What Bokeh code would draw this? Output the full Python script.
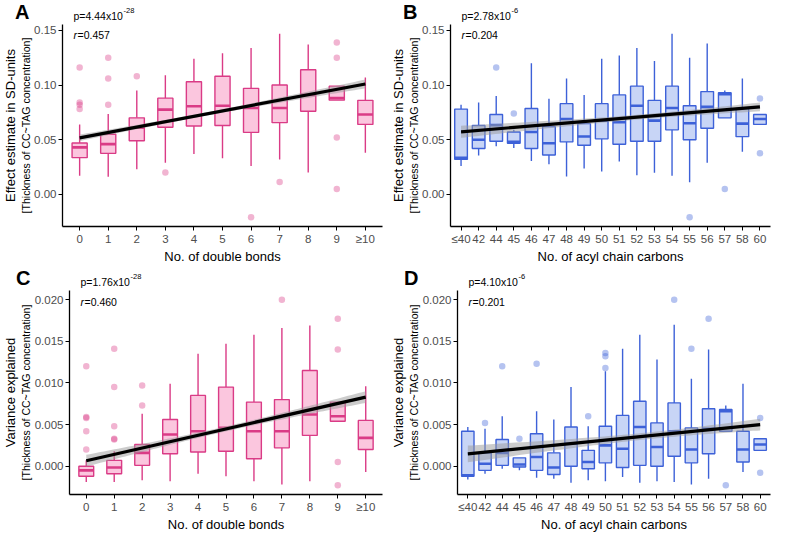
import numpy as np
from bokeh.plotting import figure
from bokeh.layouts import column, row
from bokeh.models import (FixedTicker, NumeralTickFormatter, Label, Title,
                          ColumnDataSource, Range1d)
from bokeh.embed import file_html
from bokeh.resources import INLINE

FONT = "Liberation Sans"

# ---------------- data ----------------
bond_cats = ["0", "1", "2", "3", "4", "5", "6", "7", "8", "9", "≥10"]
carbon_cats = ["≤40", "42", "44", "45", "46", "47", "48", "49", "50", "51",
               "52", "53", "54", "55", "56", "57", "58", "60"]

# Panel A: effect estimate by no. of double bonds
a_lower = [0.017, 0.016, 0.023, 0.029, 0.037, 0.033, 0.026, 0.032, 0.020, 0.086, 0.038]
a_q1 = [0.0336, 0.0375, 0.049, 0.0614, 0.0625, 0.063, 0.0567, 0.0656, 0.076, 0.0862, 0.064]
a_med = [0.043, 0.046, 0.061, 0.0775, 0.0806, 0.081, 0.079, 0.079, 0.091, 0.088, 0.073]
a_q3 = [0.047, 0.055, 0.070, 0.088, 0.103, 0.108, 0.097, 0.100, 0.114, 0.099, 0.086]
a_upper = [0.064, 0.0736, 0.095, 0.109, 0.124, 0.129, 0.134, 0.147, 0.137, 0.099, 0.107]
a_out_cat = ["0", "0", "0", "0", "1", "1", "1", "2", "3", "6", "7", "9", "9", "9", "9"]
a_out_val = [0.116, 0.084, 0.082, 0.078, 0.125, 0.106, 0.082, 0.108, 0.020, -0.021,
             0.0114, 0.139, 0.125, 0.052, 0.005]
a_fit = [0.0517, 0.101]          # fitted value at first / last category
a_band = [0.003, 0.0015, 0.004]  # CI half width: left end, minimum, right end

# Panel B: effect estimate by no. of acyl chain carbons
b_lower = [0.026, 0.0356, 0.044, 0.0425, 0.0306, 0.0275, 0.0164, 0.0236, 0.021, 0.030,
           0.0175, 0.0197, 0.017, 0.011, 0.029, 0.070, 0.039, 0.064]
b_q1 = [0.032, 0.042, 0.0486, 0.0467, 0.042, 0.036, 0.048, 0.045, 0.0508, 0.0458,
        0.0486, 0.0486, 0.059, 0.050, 0.0605, 0.070, 0.0528, 0.064]
b_med = [0.0335, 0.050, 0.0633, 0.048, 0.057, 0.0467, 0.069, 0.053, 0.0675, 0.066,
         0.081, 0.0675, 0.079, 0.065, 0.080, 0.0917, 0.0647, 0.069]
b_q3 = [0.078, 0.063, 0.073, 0.057, 0.0786, 0.062, 0.083, 0.0647, 0.083, 0.091,
        0.099, 0.086, 0.099, 0.081, 0.094, 0.093, 0.0786, 0.073]
b_upper = [0.082, 0.084, 0.090, 0.059, 0.120, 0.0875, 0.106, 0.091, 0.124, 0.127,
           0.134, 0.122, 0.147, 0.125, 0.138, 0.095, 0.106, 0.073]
b_out_cat = ["44", "45", "55", "57", "60", "60"]
b_out_val = [0.116, 0.074, -0.021, 0.005, 0.0877, 0.0377]
b_fit = [0.0572, 0.080]
b_band = [0.0055, 0.0022, 0.004]

# Panel C: variance explained by no. of double bonds
c_lower = [-0.0019, -0.0019, -0.0017, -0.0018, -0.0009, -0.0012, -0.0018, -0.0022,
           -0.0018, 0.0054, -0.0007]
c_q1 = [-0.0012, -0.0009, 0.0001, 0.0015, 0.0017, 0.0018, 0.0009, 0.0022, 0.0037,
        0.0054, 0.0020]
c_med = [-0.0005, -0.00015, 0.0016, 0.0038, 0.0042, 0.0046, 0.0042, 0.0042, 0.0062,
         0.0060, 0.0034]
c_q3 = [0.0, 0.0007, 0.0026, 0.0056, 0.0085, 0.0095, 0.0077, 0.0080, 0.0115, 0.0077,
        0.0055]
c_upper = [0.0007, 0.0018, 0.0063, 0.0099, 0.0135, 0.0147, 0.0158, 0.0166, 0.0169,
           0.0077, 0.0096]
c_out_cat = ["0", "0", "0", "0", "0", "1", "1", "1", "1", "1", "2", "2", "7",
             "9", "9", "9", "9"]
c_out_val = [0.0120, 0.0059, 0.0058, 0.0042, 0.0020, 0.0141, 0.0095, 0.0048, 0.0033,
             0.0032, 0.0097, 0.0073, 0.0200, 0.0177, 0.0140, 0.0005, -0.0023]
c_fit = [0.00066, 0.0083]
c_band = [0.0007, 0.0003, 0.0007]

# Panel D: variance explained by no. of acyl chain carbons
d_lower = [-0.0016, -0.0009, -0.0003, -0.0005, -0.0014, -0.0015, -0.0020, -0.0017,
           -0.0018, -0.0013, -0.0020, -0.0018, -0.0019, -0.0022, -0.0015, 0.0042,
           -0.0007, 0.0019]
d_q1 = [-0.0012, -0.0005, 0.0001, -0.0001, -0.0005, -0.0010, 0.0, -0.0003, 0.0004,
        -0.00015, 0.0001, 0.0, 0.0012, 0.0004, 0.0015, 0.0042, 0.0005, 0.0019]
d_med = [-0.0011, 0.0003, 0.0016, 0.0002, 0.0011, -0.00015, 0.0027, 0.0005, 0.0025,
         0.0021, 0.0047, 0.0023, 0.0042, 0.0020, 0.0045, 0.0066, 0.0020, 0.0026]
d_q3 = [0.0042, 0.0016, 0.0032, 0.0010, 0.0039, 0.0016, 0.0047, 0.0019, 0.0048,
        0.0061, 0.0078, 0.0052, 0.0076, 0.0046, 0.0069, 0.0068, 0.0042, 0.0033]
d_upper = [0.0047, 0.0045, 0.0060, 0.0010, 0.0066, 0.0056, 0.0095, 0.0048, 0.0114,
           0.0141, 0.0158, 0.0128, 0.0170, 0.0105, 0.0140, 0.0073, 0.0099, 0.0033]
d_out_cat = ["42", "44", "45", "46", "49", "50", "50", "50", "54", "55", "56", "57",
             "60", "60"]
d_out_val = [0.0052, 0.0120, 0.0033, 0.0123, 0.0060, 0.0136, 0.0132, 0.0118, 0.0200,
             0.0141, 0.0177, -0.0023, 0.0058, -0.0008]
d_fit = [0.00147, 0.0050]
d_band = [0.0010, 0.0004, 0.0007]

# ---------------- styling ----------------
PINK_LINE, PINK_FILL = "#DA3B86", "#FBC6DE"
BLUE_LINE, BLUE_FILL = "#3D61D8", "#C8D5F6"
HEAD_H = 24


def panel(cats, lower, q1, med, q3, upper, out_cat, out_val, fit, band,
          line_col, fill_col, box_w, yr, yticks, yfmt, xlabel, ylabel1,
          letter, pexp, ptxt, rtxt, width, height, bl, br, bb, r_dy):
    n = len(cats)
    x = list(range(n))
    xr = Range1d(-0.6, n - 0.4)

    # ---- header strip: panel letter (as left-axis label) and p-value ----
    h = figure(width=width, height=HEAD_H, output_backend="svg", toolbar_location=None,
               x_range=xr, y_range=Range1d(0, HEAD_H),
               min_border_left=bl, min_border_right=br, min_border_top=0,
               min_border_bottom=0, x_axis_location=None, y_axis_location="left")
    h.grid.visible = False
    h.outline_line_color = None
    tick_y = HEAD_H - 11
    hy = h.yaxis[0]
    hy.ticker = FixedTicker(ticks=[tick_y])
    hy.major_label_overrides = {tick_y: letter}
    hy.axis_line_color = None
    hy.major_tick_line_color = None
    hy.minor_tick_line_color = None
    hy.major_tick_out = 0
    hy.major_tick_in = 0
    hy.major_label_standoff = bl - 25
    hy.major_label_text_font = FONT
    hy.major_label_text_font_size = "20px"
    hy.major_label_text_font_style = "bold"
    hy.major_label_text_color = "black"

    def hlab(text, dx, dy, size):
        # positioned from the top edge of the header strip
        h.add_layout(Label(x=-0.6, y=HEAD_H, x_offset=dx, y_offset=dy, text=text,
                           text_font=FONT, text_font_size=size, text_color="black",
                           text_baseline="alphabetic", text_align="left"))

    hlab(ptxt, 11, -15, "10.5px")
    hlab(pexp, 61, -10, "7.5px")

    # ---- main panel ----
    p = figure(width=width, height=height - HEAD_H, output_backend="svg",
               toolbar_location=None, x_range=xr,
               y_range=Range1d(*yr), min_border_left=bl, min_border_right=br,
               min_border_top=0, min_border_bottom=bb)
    p.grid.visible = False
    p.outline_line_color = None

    src = ColumnDataSource(dict(x=x, lower=lower, q1=q1, med=med, q3=q3, upper=upper,
                                xl=[v - box_w / 2 for v in x],
                                xr=[v + box_w / 2 for v in x]))
    p.segment(x0="x", y0="q3", x1="x", y1="upper", source=src,
              line_color=line_col, line_width=1.4)
    p.segment(x0="x", y0="q1", x1="x", y1="lower", source=src,
              line_color=line_col, line_width=1.4)
    p.vbar(x="x", bottom="q1", top="q3", width=box_w, source=src,
           fill_color=fill_col, line_color=line_col, line_width=1.4)
    p.segment(x0="xl", y0="med", x1="xr", y1="med", source=src,
              line_color=line_col, line_width=2.6)

    ox = [cats.index(c) for c in out_cat]
    p.scatter(ox, out_val, size=6.5, fill_color=line_col, fill_alpha=0.38,
              line_color=None)

    # regression line with confidence band
    L = n - 1
    hL, hmin, hR = band
    r = np.sqrt((hL ** 2 - hmin ** 2) / (hR ** 2 - hmin ** 2))
    m = L * r / (1 + r)
    b = (hL ** 2 - hmin ** 2) / m ** 2
    xs = np.linspace(0, L, 80)
    ys = fit[0] + (fit[1] - fit[0]) * xs / L
    hw = np.sqrt(hmin ** 2 + b * (xs - m) ** 2)
    p.varea(x=xs, y1=ys - hw, y2=ys + hw, fill_color="#999999", fill_alpha=0.5)
    p.line([0, L], fit, line_color="black", line_width=3.2)

    # axes
    ax, ay = p.xaxis[0], p.yaxis[0]
    ax.ticker = FixedTicker(ticks=x)
    ax.major_label_overrides = {i: c for i, c in enumerate(cats)}
    ay.ticker = FixedTicker(ticks=yticks)
    ay.formatter = NumeralTickFormatter(format=yfmt)
    for a in (ax, ay):
        a.axis_line_color = "black"
        a.axis_line_width = 1.3
        a.major_tick_line_color = "black"
        a.major_tick_line_width = 1.0
        a.major_tick_out = 4
        a.major_tick_in = 0
        a.minor_tick_line_color = None
        a.major_label_text_font = FONT
        a.major_label_text_font_size = "11.5px"
        a.major_label_text_color = "#4D4D4D"
        a.major_label_standoff = 2
    ax.axis_label = xlabel
    ax.axis_label_text_font = FONT
    ax.axis_label_text_font_size = "13px"
    ax.axis_label_text_font_style = "normal"
    ax.axis_label_text_color = "black"
    ax.axis_label_standoff = 1

    p.add_layout(Title(text="[Thickness of CC~TAG concentration]", align="center",
                       text_font=FONT, text_font_size="10.5px",
                       text_font_style="normal", text_color="black", standoff=0),
                 "left")
    p.add_layout(Title(text=ylabel1, align="center", text_font=FONT,
                       text_font_size="13px", text_font_style="normal",
                       text_color="black", standoff=0), "left")

    for text, dx, style in (("r", 11, "italic"), (rtxt, 15, "normal")):
        p.add_layout(Label(x=-0.6, y=yr[1], x_offset=dx, y_offset=r_dy, text=text,
                           text_font=FONT, text_font_size="10.5px",
                           text_font_style=style, text_color="black",
                           text_baseline="alphabetic", text_align="left"))
    return column(h, p, spacing=0)


YR_AB = (-0.0294, 0.1554)
YR_CD = (-0.0034, 0.0211)
T_AB = [0.0, 0.05, 0.10, 0.15]
T_CD = [0.0, 0.005, 0.010, 0.015, 0.020]

pa = panel(bond_cats, a_lower, a_q1, a_med, a_q3, a_upper, a_out_cat, a_out_val, a_fit,
           a_band, PINK_LINE, PINK_FILL, 0.53, YR_AB, T_AB, "0.00", "No. of double bonds",
           "Effect estimate in SD-units", "A", "-28", "p=4.44x10", "=0.457",
           388, 266, 58, 6, 32, -10)
pb = panel(carbon_cats, b_lower, b_q1, b_med, b_q3, b_upper, b_out_cat, b_out_val, b_fit,
           b_band, BLUE_LINE, BLUE_FILL, 0.72, YR_AB, T_AB, "0.00",
           "No. of acyl chain carbons", "Effect estimate in SD-units", "B", "-6",
           "p=2.78x10", "=0.204", 386, 266, 58, 4, 32, -10)
pc = panel(bond_cats, c_lower, c_q1, c_med, c_q3, c_upper, c_out_cat, c_out_val, c_fit,
           c_band, PINK_LINE, PINK_FILL, 0.53, YR_CD, T_CD, "0.000", "No. of double bonds",
           "Variance explained", "C", "-28", "p=1.76x10", "=0.460",
           388, 268, 64, 6, 32, -11)
pd_ = panel(carbon_cats, d_lower, d_q1, d_med, d_q3, d_upper, d_out_cat, d_out_val, d_fit,
            d_band, BLUE_LINE, BLUE_FILL, 0.72, YR_CD, T_CD, "0.000",
            "No. of acyl chain carbons", "Variance explained", "D", "-6",
            "p=4.10x10", "=0.201", 386, 268, 64, 4, 32, -11)

layout = column(row(pa, pb, spacing=0), row(pc, pd_, spacing=0), spacing=0)
open("out.html", "w").write(file_html(layout, INLINE))
